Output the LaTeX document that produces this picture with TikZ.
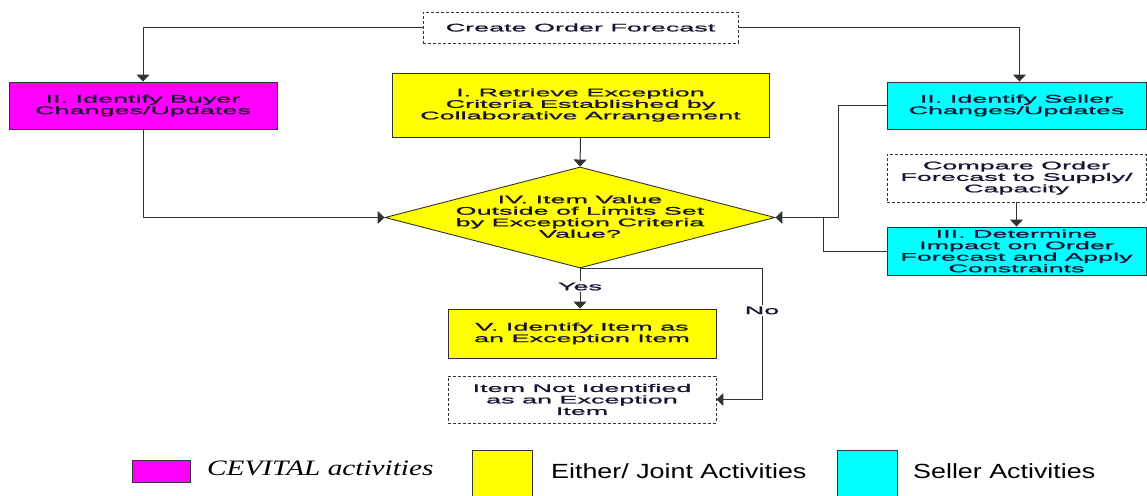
\documentclass[tikz,border=0pt]{standalone}
\usepackage{fontspec}
\setmainfont{Liberation Sans}
\newfontfamily\boxfont{Liberation Sans}[FakeStretch=2.45,FakeBold=1.2]
\newfontfamily\legsans{Liberation Sans}[FakeStretch=1.31]
\newfontfamily\legserif{Liberation Serif}[FakeStretch=1.33]
\usetikzlibrary{shapes.geometric,arrows.meta}
\definecolor{txt}{RGB}{25,20,50}
\definecolor{edge}{RGB}{50,50,50}
\definecolor{buyer}{RGB}{255,0,255}
\definecolor{joint}{RGB}{255,255,0}
\definecolor{seller}{RGB}{0,255,255}
\tikzset{
  base/.style={draw=edge, line width=0.9pt, inner sep=0pt, align=center,
    text=txt, font=\boxfont\fontsize{11}{11.5}\selectfont},
  act/.style={base, rectangle, minimum width=#1},
  dashbox/.style={base, rectangle, dash pattern=on 3pt off 2pt, fill=white},
  conn/.style={draw=edge, line width=1pt},
  arr/.style={conn, -{Triangle[length=7pt,width=13pt]}},
  lbl/.style={fill=white, text=txt, inner sep=1.5pt, font=\boxfont\fontsize{11}{11.5}\selectfont},
  swatch/.style={draw=black!80, line width=0.8pt, minimum width=#1},
}
\begin{document}
\begin{tikzpicture}[x=1pt,y=-1pt]
\useasboundingbox (0,0) rectangle (1147,495);

% process nodes
\node[dashbox, minimum width=315pt, minimum height=31pt] (create) at (580.5,27.5) {Create Order Forecast};
\node[act=268pt, minimum height=47pt, fill=buyer] (buy) at (143,105.5) {II. Identify Buyer\\Changes/Updates};
\node[act=377pt, minimum height=64pt, fill=joint] (retr) at (580.5,105) {I. Retrieve Exception\\Criteria Established by\\Collaborative Arrangement};
\node[act=259pt, minimum height=47pt, fill=seller] (sell) at (1016.5,105.5) {II. Identify Seller\\Changes/Updates};
\node[base, diamond, minimum width=390pt, minimum height=101pt, fill=joint] (dia) at (580,217.5) {};
\node[base, draw=none] at (580,216.5) {IV. Item Value\\Outside of Limits Set\\by Exception Criteria\\Value?};
\node[dashbox, minimum width=259pt, minimum height=48pt] (cmp) at (1016.5,178) {Compare Order\\Forecast to Supply/\\Capacity};
\node[act=259pt, minimum height=48pt, fill=seller] (imp) at (1016.5,251) {III. Determine\\Impact on Order\\Forecast and Apply\\Constraints};
\node[act=268pt, minimum height=49pt, fill=joint] (exc) at (582,333.5) {V. Identify Item as\\an Exception Item};
\node[dashbox, minimum width=268pt, minimum height=47pt] (nex) at (582,399.5) {Item Not Identified\\as an Exception\\Item};

% connectors
\draw[arr] (create.west) -| (buy.north);
\draw[arr] (create.east) -| ([xshift=3pt]sell.north);
\draw[arr] (buy.south) |- (dia.west);
\draw[arr] (retr.south) -- (dia.north);
\draw[arr] (sell.west) -- ++(-48,0) |- (dia.east);
\coordinate (join) at (823,217.5);
\draw[conn] (imp.west) -| (join);
\draw[arr] (cmp.south) -- (imp.north);
\draw[arr] (dia.south) -- (dia.south |- exc.north) node[lbl, pos=0.45] {Yes};
\draw[conn] (dia.south) -- ++(182,0) coordinate (nc);
\draw[arr] (nc) |- (nex.east);
\path (nc) -- (nc |- nex.east) node[lbl, pos=0.32] {No};

% legend
\node[swatch=58pt, minimum height=22pt, fill=buyer] (k1) at (161,471) {};
\node[anchor=west, inner sep=0pt, font=\legserif\itshape\fontsize{22}{24}\selectfont] (t1) at (207,468) {CEVITAL activities};
\node[swatch=60pt, minimum height=52pt, fill=joint] (k2) at (502,476) {};
\node[anchor=west, inner sep=0pt, font=\legsans\fontsize{20.5}{23}\selectfont] (t2) at (551,471) {Either/ Joint Activities};
\node[swatch=60pt, minimum height=52pt, fill=seller] (k3) at (867,476) {};
\node[anchor=west, inner sep=0pt, font=\legsans\fontsize{20.5}{23}\selectfont] (t3) at (913,471) {Seller Activities};
\end{tikzpicture}
\end{document}
